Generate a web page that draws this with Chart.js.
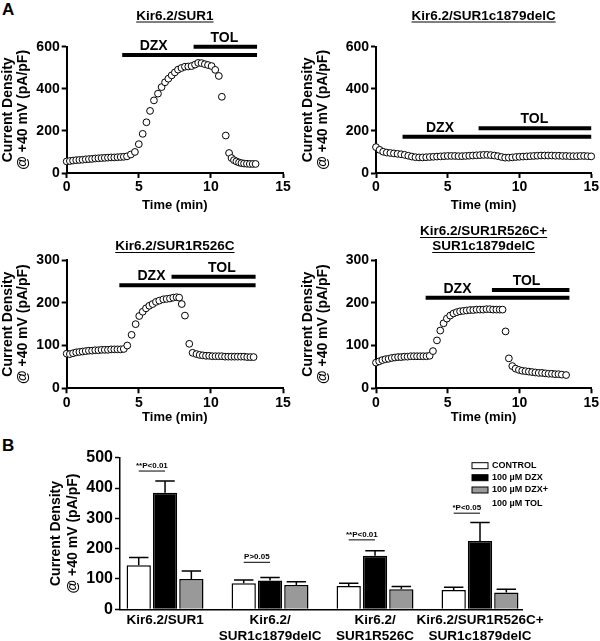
<!DOCTYPE html>
<html>
<head>
<meta charset="utf-8">
<script src="https://cdn.jsdelivr.net/npm/chart.js@4.4.1/dist/chart.umd.min.js"></script>
<style>
body { margin: 0; background: #fff; }
#wrap { position: relative; width: 600px; height: 641px; overflow: hidden; font-family: "Liberation Sans", Arial, sans-serif; }
#wrap canvas { position: absolute; }
.lbl { position: absolute; font-weight: bold; font-size: 17px; line-height: 17px; }
</style>
</head>
<body>
<div id="wrap">
  <div class="lbl" style="left:2px;top:1px">A</div>
  <div class="lbl" style="left:2px;top:437px">B</div>
  <canvas id="p1" width="300" height="213" style="left:0;top:0"></canvas>
  <canvas id="p2" width="300" height="213" style="left:300px;top:0"></canvas>
  <canvas id="p3" width="300" height="212" style="left:0;top:213px"></canvas>
  <canvas id="p4" width="300" height="212" style="left:300px;top:213px"></canvas>
  <canvas id="pb" width="600" height="201" style="left:0;top:440px"></canvas>
</div>
<script>
// ---- panel A: time courses (min, pA/pF) ----
var timeSur1 = [0,0.22,0.44,0.66,0.88,1.1,1.32,1.54,1.76,1.98,2.2,2.42,2.64,2.86,3.08,3.3,3.52,3.74,3.96,4.18,
  4.45,4.73,5.0,5.27,5.53,5.78,6.05,6.33,6.58,6.82,
  7.05,7.28,7.5,7.72,7.96,8.2,8.43,8.66,8.9,9.12,
  9.35,9.58,9.8,10.05,10.3,10.55,10.76,11.03,11.26,11.43,
  11.6,11.77,11.95,12.12,12.3,12.5,12.7,12.9,13.1];
var densSur1 = [55,57,59,61,62,63,65,66,67,69,70,71,72,73,74,74,75,76,77,79,
  88,100,137,186,241,295,345,377,408,431,
  448,464,478,491,499,505,506,508,515,523,
  522,517,513,508,490,461,362,178,95,71,
  61,55,50,47,45,44,43,43,43];

var timeDelC = [0,0.25,0.5,0.75,1,1.25,1.5,1.75,2,2.25,2.5,2.75,3,3.25,3.5,3.75,4,4.25,4.5,4.75,
  5,5.25,5.5,5.75,6,6.25,6.5,6.75,7,7.25,7.5,7.75,8,8.25,8.5,8.75,9,9.25,9.5,9.75,
  10,10.25,10.5,10.75,11,11.25,11.5,11.75,12,12.25,12.5,12.75,13,13.25,13.5,13.75,14,14.25,14.5,14.75,15];
var densDelC = [123,110,101,97,95,93,91,89,86,82,78,75,74,74,75,76,77,78,79,80,
  81,81,81,80,80,81,82,83,84,85,86,86,85,83,80,76,73,73,74,76,
  77,78,79,80,81,82,83,83,83,83,82,82,81,81,80,80,80,81,81,80,79];

var timeR526C = [0,0.22,0.44,0.66,0.88,1.1,1.32,1.54,1.76,1.98,2.2,2.42,2.64,2.86,3.08,3.3,3.52,3.74,3.96,
  4.2,4.5,4.78,5.03,5.27,5.5,5.73,5.96,6.19,6.42,
  6.7,6.93,7.16,7.39,7.62,7.8,7.98,8.2,8.5,8.73,
  9.0,9.22,9.44,9.66,9.88,10.1,10.32,10.54,10.76,10.98,
  11.2,11.42,11.64,11.86,12.08,12.3,12.52,12.74,12.96];
var densR526C = [81,80,82,84,85,86,87,88,88,89,89,90,90,90,91,91,91,91,92,
  100,125,150,169,179,187,193,197,202,205,
  208,209,210,212,213,212,197,170,104,83,
  80,78,77,76,76,75,75,75,75,74,
  74,74,74,74,74,74,73,73,73];

var timeCombo = [0,0.22,0.44,0.66,0.88,1.1,1.32,1.54,1.76,1.98,2.2,2.42,2.64,2.86,3.08,3.3,3.52,3.74,
  3.97,4.25,4.48,4.71,4.94,5.17,5.4,5.63,5.86,6.09,
  6.32,6.55,6.78,7.01,7.24,7.47,7.7,7.93,8.16,8.39,
  8.62,8.82,9.03,9.26,9.5,9.73,9.96,10.19,10.42,10.65,
  10.88,11.11,11.34,11.57,11.8,12.03,12.26,12.49,12.72,12.95,13.25];
var densCombo = [60,63,66,68,69,71,72,73,73,74,74,75,75,75,75,75,75,76,
  87,112,135,152,163,170,175,178,180,181,
  182,183,183,184,184,184,185,185,184,184,
  184,184,133,70,52,46,43,41,40,39,
  38,37,36,36,35,34,34,33,33,32,31];

// drug application: [start min, end min, level on y axis]
var dzxSur1 = [3.85, 13.2, 560], tolSur1 = [8.8, 13.2, 600];
var dzxDelC = [1.85, 15, 172], tolDelC = [7.15, 15, 212];
var dzxR526C = [3.65, 13.1, 241], tolR526C = [7.27, 13.1, 261];
var dzxCombo = [3.46, 13.48, 212], tolCombo = [8.08, 13.48, 230];

// ---- panel B: summary bars ----
var groupLabels = [['Kir6.2/SUR1'], ['Kir6.2/', 'SUR1c1879delC'], ['Kir6.2/', 'SUR1R526C'], ['Kir6.2/SUR1R526C+', 'SUR1c1879delC']];
var groupPos = [1, 2, 3, 4];
var seriesNames = ['CONTROL', '100 \u00b5M DZX', '100 \u00b5M DZX+'];
var controlMean = [145, 86, 77, 64];
var controlSem = [26, 11, 9, 9];
var dzxMean = [384, 95, 177, 225];
var dzxSem = [39, 10, 16, 61];
var tolMean = [100, 80, 66, 55];
var tolSem = [26, 11, 9, 11];
var sigText = ['**P<0.01', 'P>0.05', '**P<0.01', '*P<0.05'];
var sigLevel = [456, 155, 229, 317];

var FONT = '"Liberation Sans", Arial, sans-serif';
Chart.defaults.font.family = FONT;
Chart.defaults.color = '#000';

function pts(xs, ys) {
  return xs.map(function(x, i) { return {x: x, y: ys[i]}; });
}

var traceDecor = {
  id: 'traceDecor',
  afterDatasetsDraw: function(chart, args, o) {
    var ctx = chart.ctx, xs = chart.scales.x, ys = chart.scales.y;
    var a = chart.chartArea;
    ctx.save();
    ctx.fillStyle = '#000';
    ctx.strokeStyle = '#000';
    ctx.textAlign = 'center';
    ctx.textBaseline = 'alphabetic';
    ctx.font = 'bold 14px ' + FONT;
    o.drugs.forEach(function(d) {
      ctx.fillText(d.name, xs.getPixelForValue(d.at), ys.getPixelForValue(d.bar[2]) - 5);
    });
    ctx.font = 'bold 13.5px ' + FONT;
    var cx = (a.left + a.right) / 2;
    o.title.forEach(function(line, i) {
      var y = o.titleY[i];
      ctx.fillText(line, cx, y);
      var w = ctx.measureText(line).width;
      ctx.lineWidth = 1;
      ctx.beginPath();
      ctx.moveTo(cx - w / 2, y + 2.5);
      ctx.lineTo(cx + w / 2, y + 2.5);
      ctx.stroke();
    });
    ctx.restore();
  }
};

function drugLine(bar) {
  return {
    type: 'line', data: [{x: bar[0], y: bar[2]}, {x: bar[1], y: bar[2]}],
    borderColor: '#000', borderWidth: 4, pointRadius: 0, showLine: true, clip: false, borderCapStyle: 'butt'
  };
}

function tracePanel(id, o) {
  new Chart(document.getElementById(id), {
    type: 'scatter',
    data: {
      datasets: [
        drugLine(o.dzx),
        drugLine(o.tol),
        {
          data: pts(o.t, o.v), pointRadius: 3.4, pointBorderWidth: 1,
          pointBorderColor: '#000', pointBackgroundColor: '#fff', clip: false
        }
      ]
    },
    options: {
      responsive: false, animation: false, events: [],
      layout: {padding: {left: 0, right: o.padRight, top: o.padTop, bottom: 0}},
      plugins: {
        legend: {display: false}, tooltip: {enabled: false},
        traceDecor: {
          title: o.title, titleY: o.titleY,
          drugs: [{name: 'DZX', at: o.dzxAt, bar: o.dzx}, {name: 'TOL', at: o.tolAt, bar: o.tol}]
        }
      },
      scales: {
        x: {
          type: 'linear', min: 0, max: 15,
          ticks: {stepSize: 5, padding: 1, font: {size: 14, weight: 'bold'}},
          grid: {drawOnChartArea: false, drawTicks: true, tickLength: 5, tickColor: '#000', tickWidth: 2},
          border: {color: '#000', width: 2},
          title: {display: true, text: 'Time (min)', font: {size: 13, weight: 'bold'}, padding: 0},
          afterFit: function(s) { s.height = o.xHeight; }
        },
        y: {
          min: 0, max: o.yMax,
          ticks: {stepSize: o.yStep, padding: 2, font: {size: 14, weight: 'bold'}},
          grid: {drawOnChartArea: false, drawTicks: true, tickLength: 5, tickColor: '#000', tickWidth: 2},
          border: {color: '#000', width: 2},
          title: {
            display: true, text: ['Current Density', '@ +40 mV (pA/pF)'],
            font: {size: 14, weight: 'bold', lineHeight: 1.1}, padding: {top: 0, bottom: 0}
          },
          afterFit: function(s) { s.width = o.yWidth; }
        }
      }
    },
    plugins: [traceDecor]
  });
}

tracePanel('p1', {t: timeSur1, v: densSur1, dzx: dzxSur1, tol: tolSur1, dzxAt: 6.03, tolAt: 10.93,
  yMax: 600, yStep: 200, title: ['Kir6.2/SUR1'], titleY: [19.5],
  padTop: 46.7, padRight: 17, xHeight: 40, yWidth: 66.7});
tracePanel('p2', {t: timeDelC, v: densDelC, dzx: dzxDelC, tol: tolDelC, dzxAt: 4.46, tolAt: 11.04,
  yMax: 600, yStep: 200, title: ['Kir6.2/SUR1c1879delC'], titleY: [19.5],
  padTop: 46.7, padRight: 7.3, xHeight: 40, yWidth: 76});
tracePanel('p3', {t: timeR526C, v: densR526C, dzx: dzxR526C, tol: tolR526C, dzxAt: 5.88, tolAt: 10.76,
  yMax: 300, yStep: 100, title: ['Kir6.2/SUR1R526C'], titleY: [37],
  padTop: 47, padRight: 17, xHeight: 36.7, yWidth: 66.7});
tracePanel('p4', {t: timeCombo, v: densCombo, dzx: dzxCombo, tol: tolCombo, dzxAt: 5.68, tolAt: 10.49,
  yMax: 300, yStep: 100, title: ['Kir6.2/SUR1R526C+', 'SUR1c1879delC'], titleY: [22, 37],
  padTop: 47, padRight: 7.3, xHeight: 36.7, yWidth: 76});

var barDecor = {
  id: 'barDecor',
  afterDatasetsDraw: function(chart) {
    var ctx = chart.ctx, ys = chart.scales.y, a = chart.chartArea;
    ctx.save();
    ctx.strokeStyle = '#000';
    ctx.fillStyle = '#000';
    ctx.lineWidth = 1.5;
    // error bars (SEM, upper only)
    chart.data.datasets.forEach(function(ds, di) {
      chart.getDatasetMeta(di).data.forEach(function(bar, i) {
        var top = ys.getPixelForValue(ds.data[i].y + ds.sem[i]);
        var half = bar.width * 0.4;
        ctx.beginPath();
        ctx.moveTo(bar.x, bar.y);
        ctx.lineTo(bar.x, top);
        ctx.moveTo(bar.x - half, top);
        ctx.lineTo(bar.x + half, top);
        ctx.stroke();
      });
    });
    // significance brackets
    var m0 = chart.getDatasetMeta(0).data, m1 = chart.getDatasetMeta(1).data;
    ctx.lineWidth = 1;
    ctx.font = 'bold 8px ' + FONT;
    ctx.textAlign = 'center';
    ctx.textBaseline = 'alphabetic';
    sigText.forEach(function(txt, i) {
      var y = ys.getPixelForValue(sigLevel[i]);
      ctx.beginPath();
      ctx.moveTo(m0[i].x, y);
      ctx.lineTo(m1[i].x, y);
      ctx.stroke();
      ctx.fillText(txt, (m0[i].x + m1[i].x) / 2, y - 3);
    });
    // legend
    var lx = a.right - 50, ly = a.top + 8;
    var rows = [0, 12, 24.3];
    ctx.font = 'bold 9px ' + FONT;
    ctx.textAlign = 'left';
    ctx.textBaseline = 'middle';
    chart.data.datasets.forEach(function(ds, di) {
      var y = ly + rows[di];
      ctx.fillStyle = ds.backgroundColor;
      ctx.fillRect(lx, y - 3, 16, 6);
      ctx.lineWidth = 1;
      ctx.strokeRect(lx, y - 3, 16, 6);
      ctx.fillStyle = '#000';
      ctx.fillText(ds.label, lx + 20, y);
    });
    ctx.fillText('100 \u00b5M TOL', lx + 20, ly + 37.6);
    ctx.restore();
  }
};

function barSet(name, mean, sem, color) {
  return {
    label: name, data: pts(groupPos, mean), sem: sem,
    backgroundColor: color, borderColor: '#000', borderWidth: 1.5,
    categoryPercentage: 0.752, barPercentage: 0.923
  };
}

new Chart(document.getElementById('pb'), {
  type: 'bar',
  data: {
    datasets: [
      barSet(seriesNames[0], controlMean, controlSem, '#ffffff'),
      barSet(seriesNames[1], dzxMean, dzxSem, '#000000'),
      barSet(seriesNames[2], tolMean, tolSem, '#999999')
    ]
  },
  options: {
    responsive: false, animation: false, events: [],
    layout: {padding: {left: 0, right: 78, top: 17.7, bottom: 0}},
    plugins: {legend: {display: false}, tooltip: {enabled: false}},
    scales: {
      x: {
        type: 'linear', min: 0.571, max: 4.4, offset: false,
        afterBuildTicks: function(s) { s.ticks = groupPos.map(function(v) { return {value: v}; }); },
        ticks: {
          autoSkip: false, maxRotation: 0, padding: 3,
          font: {size: 13.5, weight: 'bold', lineHeight: 1.2},
          callback: function(v, i) { return groupLabels[i]; }
        },
        grid: {display: false, drawTicks: false, offset: false, tickLength: 0},
        border: {color: '#000', width: 1.5},
        afterFit: function(s) { s.height = 31.7; }
      },
      y: {
        min: 0, max: 500,
        ticks: {stepSize: 100, padding: 2, font: {size: 16, weight: 'bold'}},
        grid: {drawOnChartArea: false, drawTicks: true, tickLength: 5, tickColor: '#000', tickWidth: 1.5},
        border: {color: '#000', width: 1.5},
        title: {
          display: true, text: ['Current Density', '@ +40 mV (pA/pF)'],
          font: {size: 14, weight: 'bold', lineHeight: 1.2}, padding: {top: 47.6, bottom: 0}
        },
        afterFit: function(s) { s.width = 120; }
      }
    }
  },
  plugins: [barDecor]
});
</script>
</body>
</html>
